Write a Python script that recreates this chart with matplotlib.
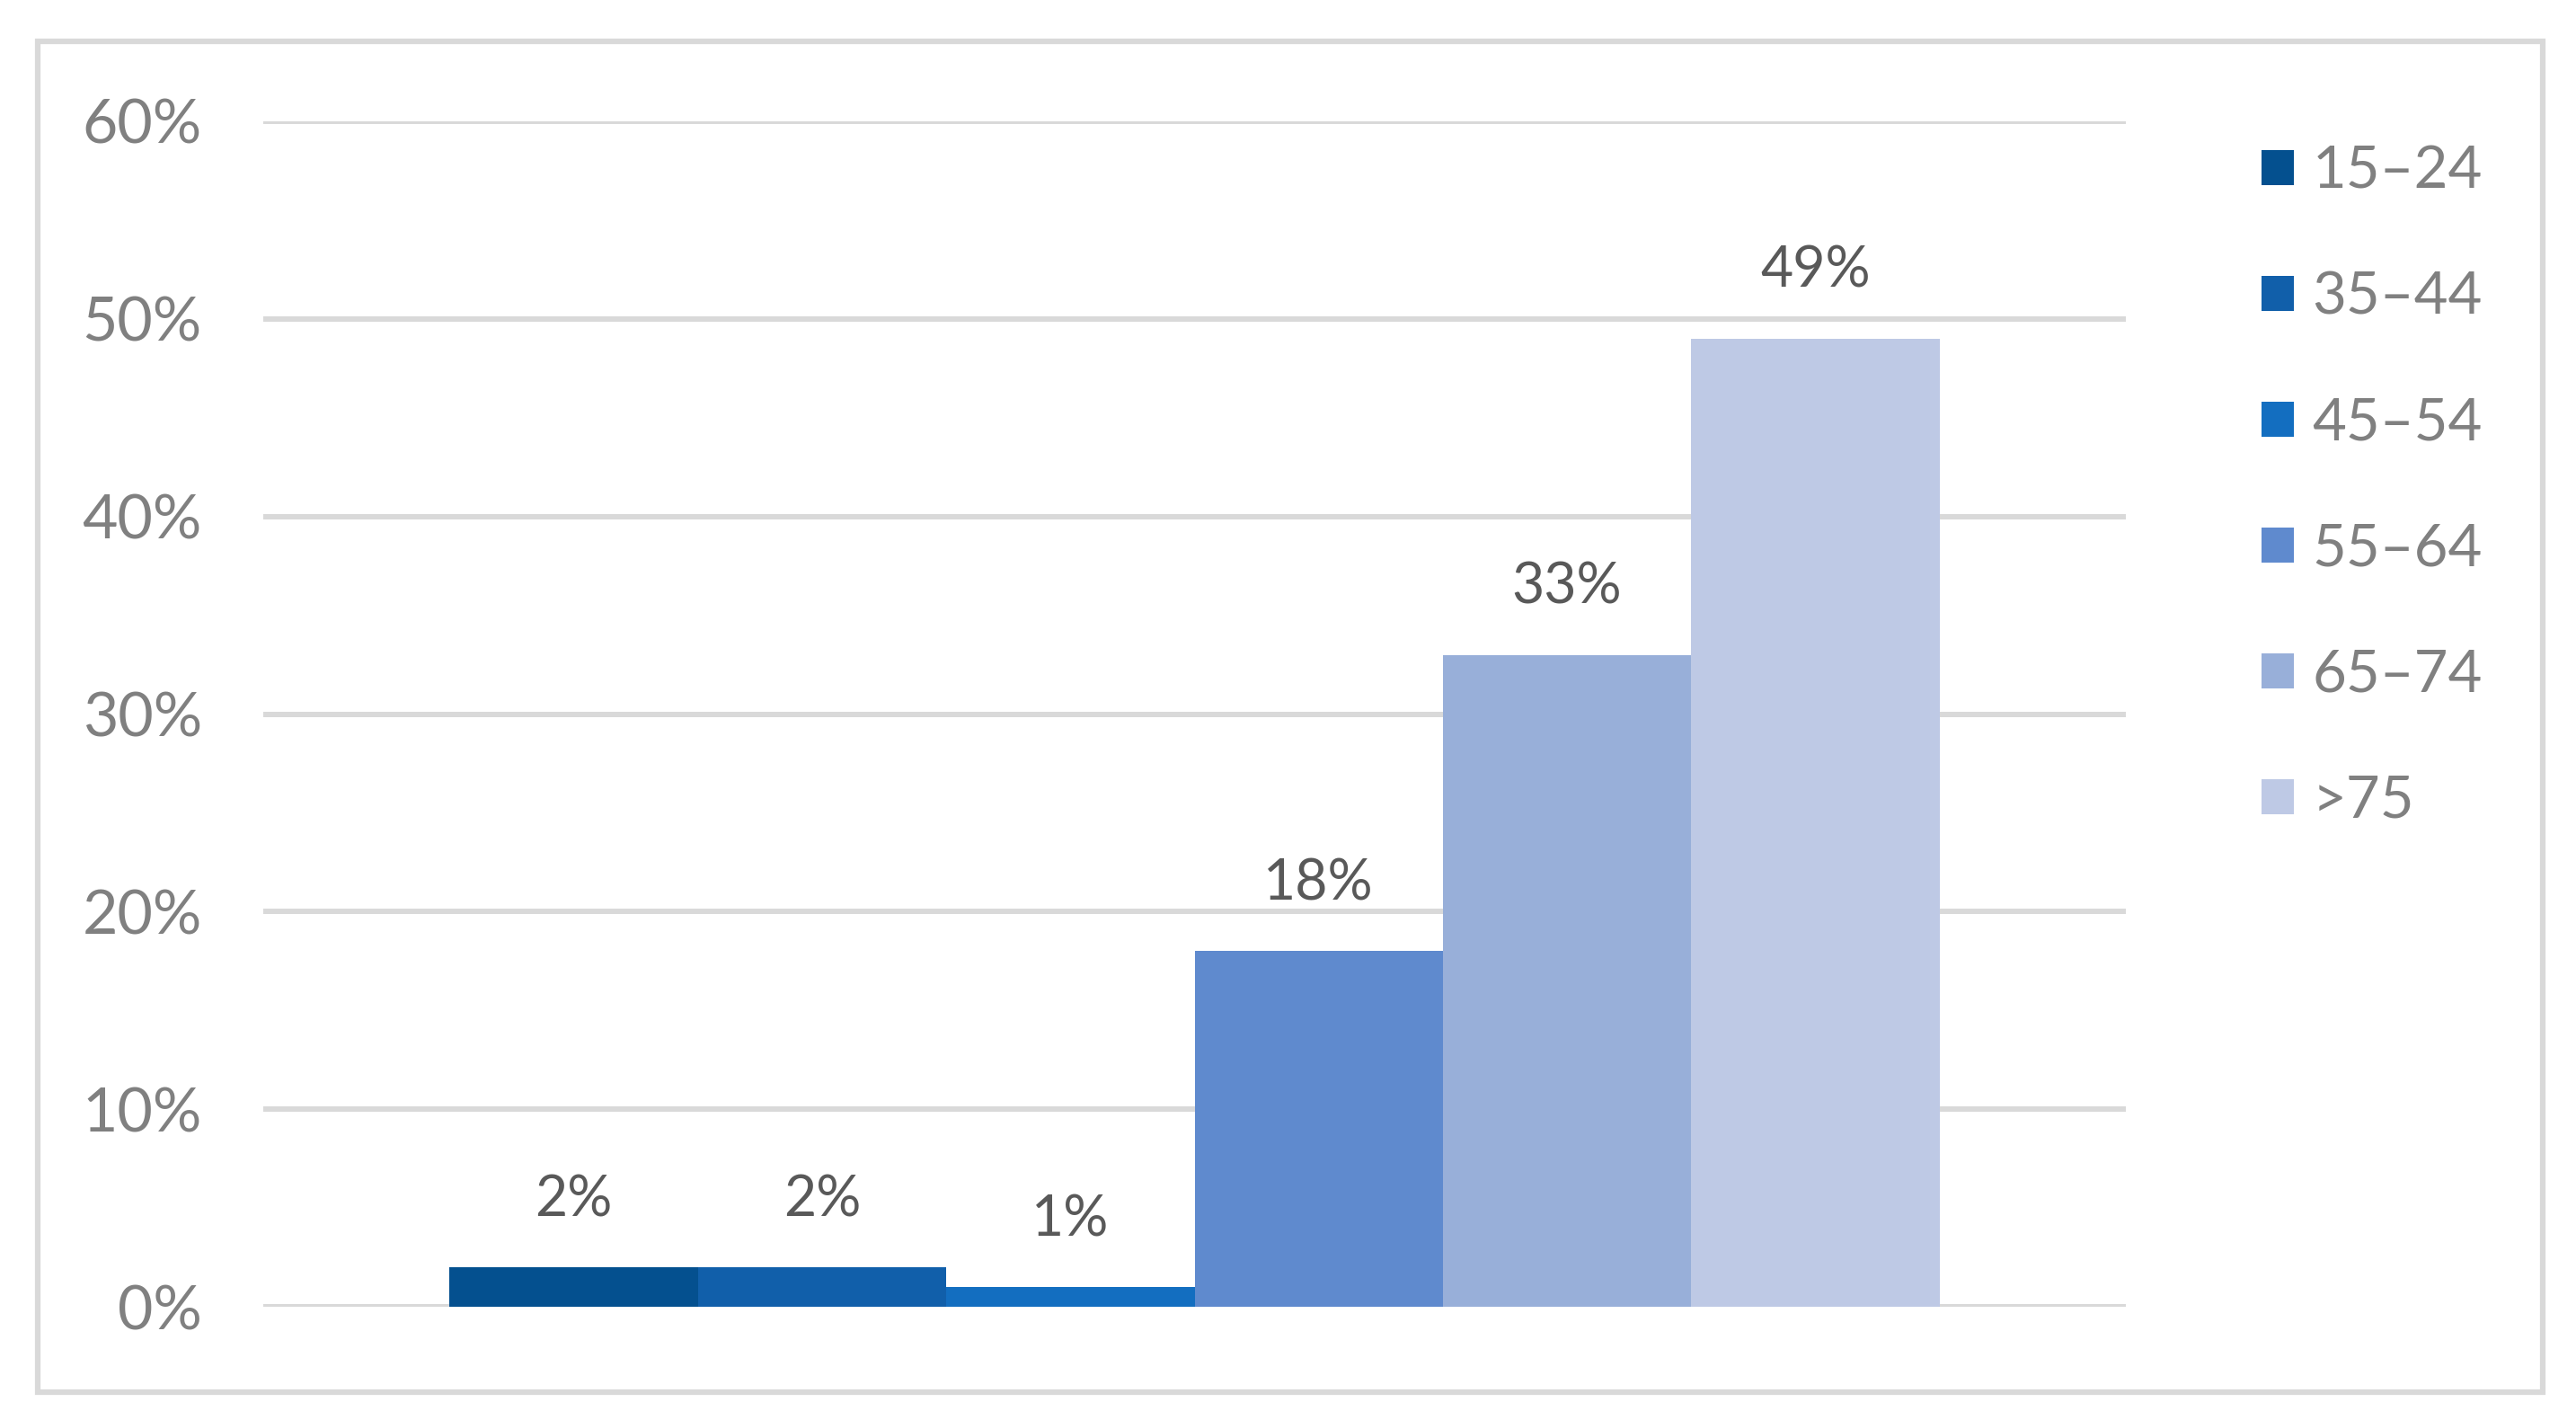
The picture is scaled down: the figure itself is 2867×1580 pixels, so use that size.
import matplotlib
matplotlib.use("Agg")
import matplotlib.pyplot as plt
import numpy as np
from matplotlib.patches import Rectangle
from matplotlib.ticker import PercentFormatter

# age groups and share of each
groups = ["15\u201324", "35\u201344", "45\u201354", "55\u201364", "65\u201374", ">75"]
values = [0.02, 0.02, 0.01, 0.18, 0.33, 0.49]
labels = ["2%", "2%", "1%", "18%", "33%", "49%"]
colors = ["#04508F", "#115FAA", "#136EC0", "#5F8ACE", "#98AFD9", "#BEC9E5"]

plt.rcParams['font.family'] = ['Lato', 'DejaVu Sans']

fig = plt.figure(figsize=(28.67, 15.80), dpi=100)
fig.patch.set_facecolor('white')

# outer chart frame
fig.patches.append(Rectangle((42/2867, 1-1549/1580), (2830-42)/2867, (1549-46)/1580,
                             transform=fig.transFigure, fill=False,
                             edgecolor='#D9D9D9', linewidth=4.5))

ax = fig.add_axes([293/2867, 1-1454/1580, (2366-293)/2867, (1454-135)/1580])

n = len(values)
w = 0.8 / n
xs = -0.4 + w/2 + np.arange(n)*w
for i in range(n):
    ax.bar(xs[i], values[i], width=w, color=colors[i], label=groups[i], zorder=3)
    ax.annotate(labels[i], (xs[i], values[i]), xytext=(0, 54), textcoords='offset points',
                ha='center', va='center', fontsize=45, color='#595959')

ax.set_xlim(-0.5, 0.5)
ax.set_ylim(0, 0.6)
ax.set_yticks(np.arange(0, 0.61, 0.1))
ax.yaxis.set_major_formatter(PercentFormatter(1.0, decimals=0))
ax.set_xticks([])
ax.tick_params(axis='y', length=0, pad=49, labelsize=49, labelcolor='#808080')
ax.yaxis.grid(True, color='#D9D9D9', linewidth=4.3, zorder=0)
for s in ax.spines.values():
    s.set_visible(False)

leg = ax.legend(loc='upper left', bbox_to_anchor=(2484/2867, 1-129/1580),
                bbox_transform=fig.transFigure, frameon=False, fontsize=47,
                handlelength=0.55, handleheight=0.55, handletextpad=0.32,
                labelspacing=1.24, borderpad=0)
for t in leg.get_texts():
    t.set_color('#808080')

fig.savefig('out.png', dpi=100, facecolor='white')
